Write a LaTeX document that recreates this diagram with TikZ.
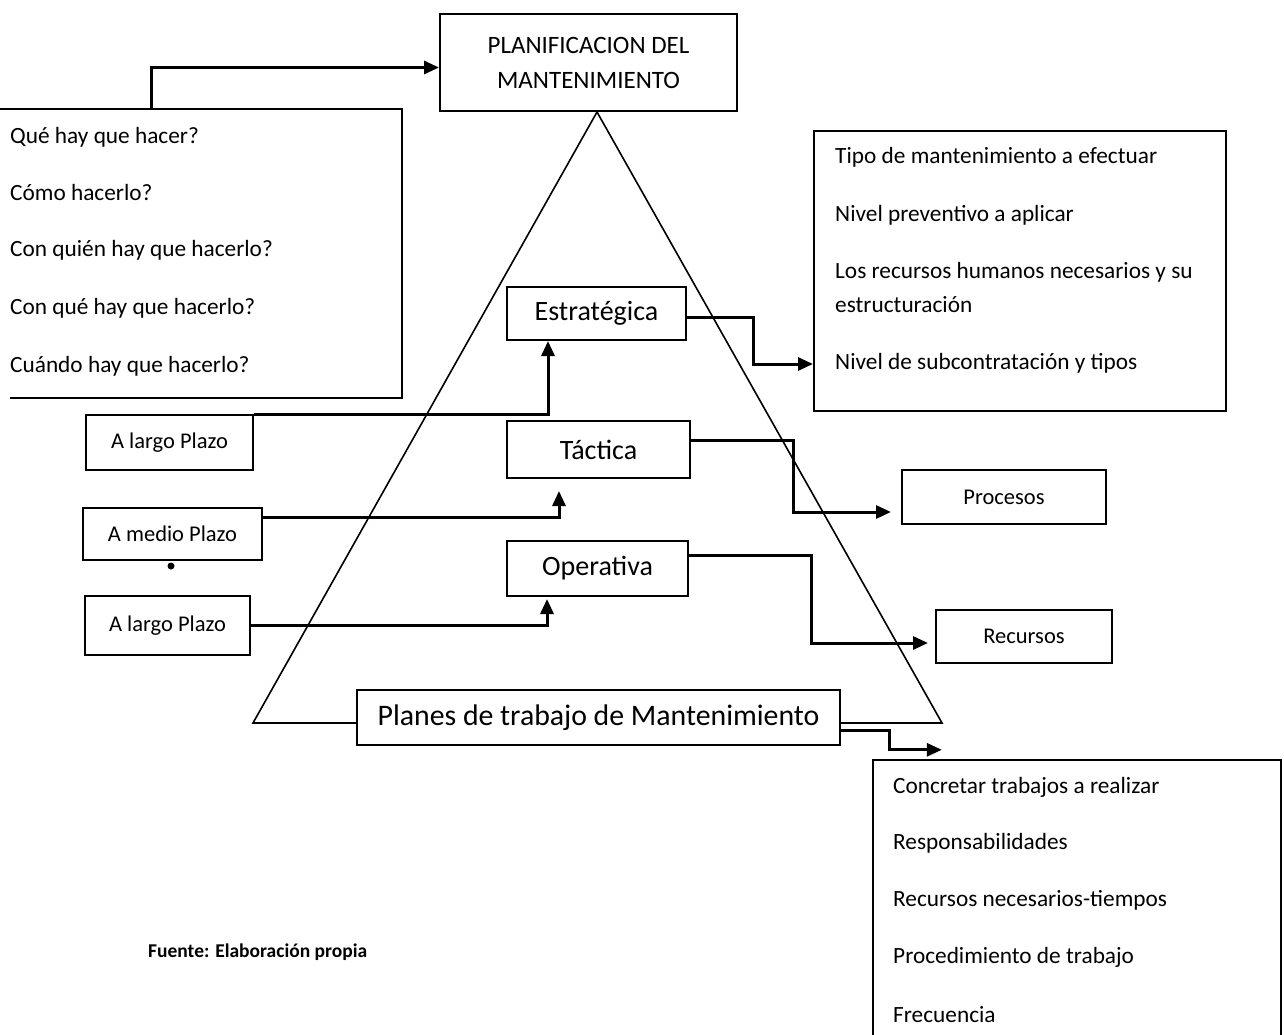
\documentclass[tikz,border=0pt]{standalone}
\usepackage{fontspec}
\setmainfont{Carlito}
\usetikzlibrary{arrows.meta, calc}

\tikzset{
    caja/.style={draw, line width=2pt, fill=white, inner sep=0pt,
        font=\fontsize{22.5}{26}\selectfont},
    nivel/.style={caja, font=\fontsize{28}{32}\selectfont},
    item/.style={anchor=west, inner sep=0pt, font=\fontsize{23.3}{26}\selectfont},
    borde/.style={line width=2pt},
    flecha/.style={line width=3pt, -{Triangle[length=15pt, width=13pt]}},
}

\begin{document}
\begin{tikzpicture}[x=1pt, y=-1pt]
    \path[fill=white, use as bounding box] (0,0) rectangle (1284,1035);

    % piramide
    \coordinate (cima) at (597,112);
    \coordinate (bi) at (253,723);
    \coordinate (bd) at (942,723);
    \draw[line width=1.6pt] (cima) -- (bi) -- (bd) -- cycle;

    \node[caja, minimum width=297pt, minimum height=97pt, align=center,
        font=\fontsize{25}{35}\selectfont] (plan) at (588.5,62.5)
        {PLANIFICACION DEL\\MANTENIMIENTO};

    % preguntas
    \node[minimum width=402pt, minimum height=289pt, inner sep=0pt] (preg) at (201,253.5) {};
    \draw[borde] (preg.north west) -- (preg.north east) -- (preg.south east)
        -- ([xshift=10pt]preg.south west);
    \node[item] (q1) at (10,137) {Qué hay que hacer?};
    \node[item] (q2) at (10,192) {Cómo hacerlo?};
    \node[item] (q3) at (10,250) {Con quién hay que hacerlo?};
    \node[item] (q4) at (10,308) {Con qué hay que hacerlo?};
    \node[item] (q5) at (10,366) {Cuándo hay que hacerlo?};

    % niveles
    \node[nivel, minimum width=179pt, minimum height=53pt] (est) at (596.5,313.5) {Estratégica};
    \node[nivel, minimum width=183pt, minimum height=57pt] (tac) at (598.5,449.5) {Táctica};
    \node[nivel, minimum width=181pt, minimum height=55pt] (ope) at (597.5,568.5) {Operativa};
    \node[nivel, minimum width=483pt, minimum height=55pt,
        font=\fontsize{29.8}{32}\selectfont] (planes) at (598.5,717.5)
        {Planes de trabajo de Mantenimiento};

    % plazos
    \node[caja, minimum width=167pt, minimum height=55pt] (lp1) at (169.5,442.5) {A largo Plazo};
    \node[caja, minimum width=179pt, minimum height=52pt] (mp) at (172.5,534) {A medio Plazo};
    \node[caja, minimum width=165pt, minimum height=59pt] (lp2) at (167.5,625.5) {A largo Plazo};
    \fill (171,566) circle (3.5pt);

    % objetivos
    \node[caja, minimum width=412pt, minimum height=280pt] (obj) at (1020,271) {};
    \node[item] (o1) at (835,157) {Tipo de mantenimiento a efectuar};
    \node[item] (o2) at (835,215) {Nivel preventivo a aplicar};
    \node[item] (o3) at (835,272) {Los recursos humanos necesarios y su};
    \node[item] (o4) at (835,305) {estructuración};
    \node[item] (o5) at (835,363) {Nivel de subcontratación y tipos};

    \node[caja, minimum width=204pt, minimum height=54pt] (proc) at (1004,497) {Procesos};
    \node[caja, minimum width=176pt, minimum height=53pt] (rec) at (1024,636) {Recursos};

    % trabajos
    \node[minimum width=408pt, minimum height=275pt, inner sep=0pt] (trab) at (1077,897.5) {};
    \draw[borde] (trab.south west) -- (trab.north west) -- (trab.north east) -- (trab.south east);
    \node[item] (t1) at (893,787) {Concretar trabajos a realizar};
    \node[item] (t2) at (893,843) {Responsabilidades};
    \node[item] (t3) at (893,900) {Recursos necesarios-tiempos};
    \node[item] (t4) at (893,957) {Procedimiento de trabajo};
    \node[item] (t5) at (893,1015) {Frecuencia};

    \node[item, font=\fontsize{19.5}{22}\selectfont\bfseries] (fuente) at (148,952)
        {Fuente: Elaboración propia};

    % conectores
    \draw[flecha] ($(preg.north west)+(152,0)$) |- ([yshift=-5pt]plan.west);
    \draw[flecha] (lp1.north east) -| ($(est.south west)+(42,0)$);
    \draw[flecha] ($(mp.north east)+(0,10)$) -| ($(tac.south west)+(53,12)$);
    \draw[flecha] (lp2.east) -| ($(ope.south west)+(41,2)$);

    \draw[flecha] ([yshift=-4pt]est.east) -- ++(66,0) |- ($(obj.south west)+(0,-48)$);
    \draw[flecha] ([yshift=9pt]tac.east) -- ++(102,0) |- ($(proc.west)+(-10,15)$);
    \draw[flecha] ([yshift=13pt]ope.east) -- ++(122,0) |- ($(rec.west)+(-7,7)$);
    \draw[flecha] ([yshift=-13pt]planes.east) -- ++(48,0) |- ($(trab.north west)+(69,-10)$);
\end{tikzpicture}
\end{document}
